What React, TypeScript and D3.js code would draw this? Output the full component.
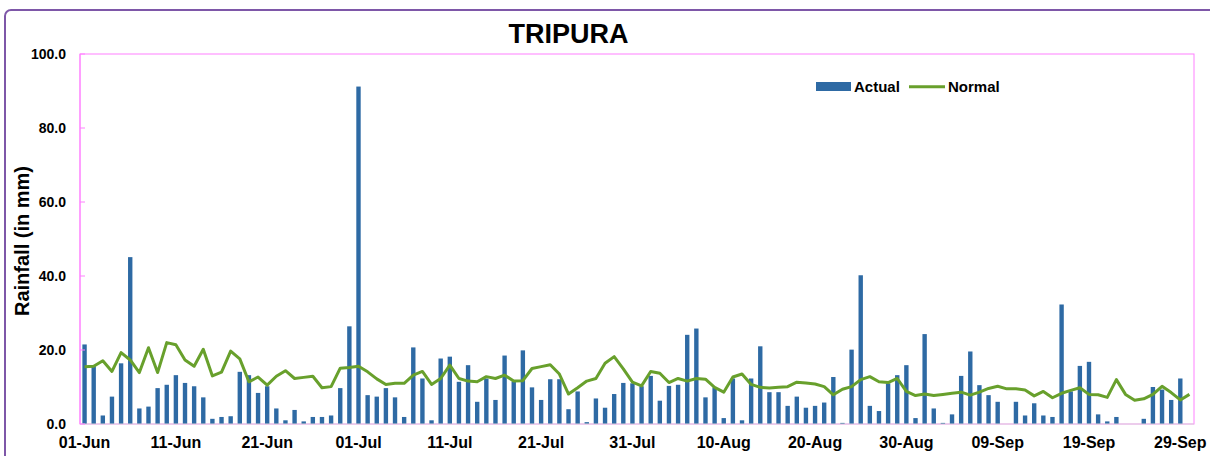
import React from "react";
import * as d3 from "d3";

const tickLabels = ["01-Jun", "11-Jun", "21-Jun", "01-Jul", "11-Jul", "21-Jul", "31-Jul", "10-Aug", "20-Aug", "30-Aug", "09-Sep", "19-Sep", "29-Sep"];
const tickIndex = [0, 10, 20, 30, 40, 50, 60, 70, 80, 90, 100, 110, 120];
const yTicks = [0, 20, 40, 60, 80, 100];

const actual = [
  21.5, 15.6, 2.3, 7.4, 16.4, 45.1, 4.2, 4.7, 9.7, 10.6,
  13.2, 11.1, 10.2, 7.2, 1.4, 1.9, 2.1, 14.1, 13.2, 8.4,
  10.2, 4.2, 1.0, 3.8, 0.7, 1.9, 1.9, 2.3, 9.7, 26.4,
  91.2, 7.8, 7.4, 9.7, 7.2, 1.9, 20.7, 12.3, 1.0, 17.7,
  18.2, 11.4, 15.9, 6.0, 12.3, 6.5, 18.5, 11.5, 19.9, 9.9,
  6.5, 12.1, 12.1, 4.0, 8.8, 0.5, 6.9, 4.4, 8.1, 11.1,
  11.0, 10.2, 13.0, 6.3, 10.3, 10.6, 24.1, 25.8, 7.2, 9.9,
  1.6, 12.3, 1.0, 12.3, 21.0, 8.6, 8.6, 4.9, 7.4, 4.4,
  4.9, 5.8, 12.7, 0.3, 20.1, 40.2, 4.9, 3.5, 11.0, 13.2,
  15.9, 1.6, 24.3, 4.2, 0.3, 2.6, 13.0, 19.6, 10.5, 7.8,
  6.0, 0, 6.0, 2.3, 5.6, 2.3, 1.9, 32.3, 8.8, 15.7,
  16.8, 2.6, 0.7, 1.9, 0, 0, 1.4, 10.0, 9.3, 6.5,
  12.3, 0,
];

const normal = [
  15.5, 15.6, 17.1, 14.2, 19.3, 17.3, 13.9, 20.6, 13.9, 22.0,
  21.4, 17.3, 15.6, 20.2, 13.0, 14.0, 19.7, 17.6, 11.4, 12.7,
  10.5, 12.9, 14.4, 12.3, 12.6, 12.9, 9.8, 10.1, 15.1, 15.3,
  15.6, 14.1, 12.2, 10.7, 11.0, 11.0, 13.2, 14.2, 10.7, 12.3,
  15.9, 12.3, 11.6, 11.4, 12.8, 12.3, 13.2, 11.6, 11.7, 15.0,
  15.5, 16.0, 13.5, 8.1, 9.8, 11.6, 12.3, 16.4, 18.2, 14.9,
  11.3, 10.3, 14.2, 13.7, 11.2, 12.3, 11.6, 12.3, 12.1, 9.9,
  8.6, 12.7, 13.5, 10.7, 9.9, 9.7, 9.9, 10.1, 11.3, 11.1,
  10.8, 10.1, 7.9, 9.4, 10.1, 12.0, 12.8, 11.4, 11.2, 12.3,
  8.8, 7.7, 8.1, 7.7, 8.0, 8.3, 8.6, 7.8, 8.6, 9.6,
  10.2, 9.5, 9.5, 9.2, 7.6, 8.8, 7.1, 8.3, 9.1, 9.8,
  8.0, 7.9, 7.2, 12.0, 8.0, 6.4, 6.8, 8.0, 10.2, 8.5,
  6.5, 8.0,
];

const W = 1210;
const H = 456;
const left = 80;
const right = 1194;
const top = 54;
const bottom = 424;
const FONT = "'Liberation Sans', Arial, sans-serif";
const BLUE = "#2e6aa4";
const GREEN = "#68a02c";

export default function App() {
  const idx = d3.range(actual.length);
  const x = d3.scaleBand<number>().domain(idx).range([left, right]).paddingInner(0.52).paddingOuter(0.26);
  const y = d3.scaleLinear().domain([0, 100]).range([bottom, top]);
  const cx = (i: number) => (x(i) as number) + x.bandwidth() / 2;
  const line = d3.line<number>().x((_, i) => cx(i)).y((d) => y(d));
  const fmt = d3.format(".1f");

  return (
    <svg width={W} height={H} style={{ position: "absolute", left: 0, top: 0, background: "#fff" }} fontFamily={FONT}>
      <rect x={0} y={0} width={W} height={H} fill="#fff" />
      <rect x={5} y={10} width={1230} height={480} rx={6} fill="none" stroke="#7e57a8" strokeWidth={2} />
      <text x={568.5} y={43} textAnchor="middle" fontSize={27} fontWeight="bold" fill="#000">TRIPURA</text>

      {/* plot area border */}
      <rect x={left} y={top} width={right - left} height={bottom - top} fill="none" stroke="#ff80ff" strokeWidth={1} />

      {/* bars */}
      {actual.map((v, i) => (
        <rect key={i} x={x(i)} y={y(v)} width={x.bandwidth()} height={bottom - y(v)} fill={BLUE} />
      ))}

      {/* normal line */}
      <path d={line(normal) || ""} fill="none" stroke={GREEN} strokeWidth={3} strokeLinejoin="round" />

      {/* axes */}
      <line x1={left} x2={right} y1={bottom} y2={bottom} stroke="#d9d9d9" strokeWidth={1} />
      <line x1={left} x2={left} y1={top} y2={bottom} stroke="#ff80ff" strokeWidth={1} />
      {yTicks.map((t) => (
        <g key={t}>
          <line x1={left} x2={left + 5} y1={y(t)} y2={y(t)} stroke="#ff80ff" strokeWidth={1} />
          <text x={66} y={y(t)} dy="0.35em" textAnchor="end" fontSize={14} fontWeight="bold" fill="#000">{fmt(t)}</text>
        </g>
      ))}
      {tickIndex.map((ti, k) => (
        <text key={k} x={cx(ti)} y={448} textAnchor="middle" fontSize={16} fontWeight="bold" fill="#000">{tickLabels[k]}</text>
      ))}

      <text transform={`translate(28.5, 241) rotate(-90)`} textAnchor="middle" fontSize={20} fontWeight="bold" fill="#000">Rainfall (in mm)</text>

      {/* legend */}
      <rect x={816} y={82} width={35} height={9} fill={BLUE} />
      <text x={854} y={92} fontSize={15} fontWeight="bold" fill="#000">Actual</text>
      <line x1={909} x2={945} y1={86.7} y2={86.7} stroke={GREEN} strokeWidth={3} />
      <text x={948} y={92} fontSize={15} fontWeight="bold" fill="#000">Normal</text>
    </svg>
  );
}
